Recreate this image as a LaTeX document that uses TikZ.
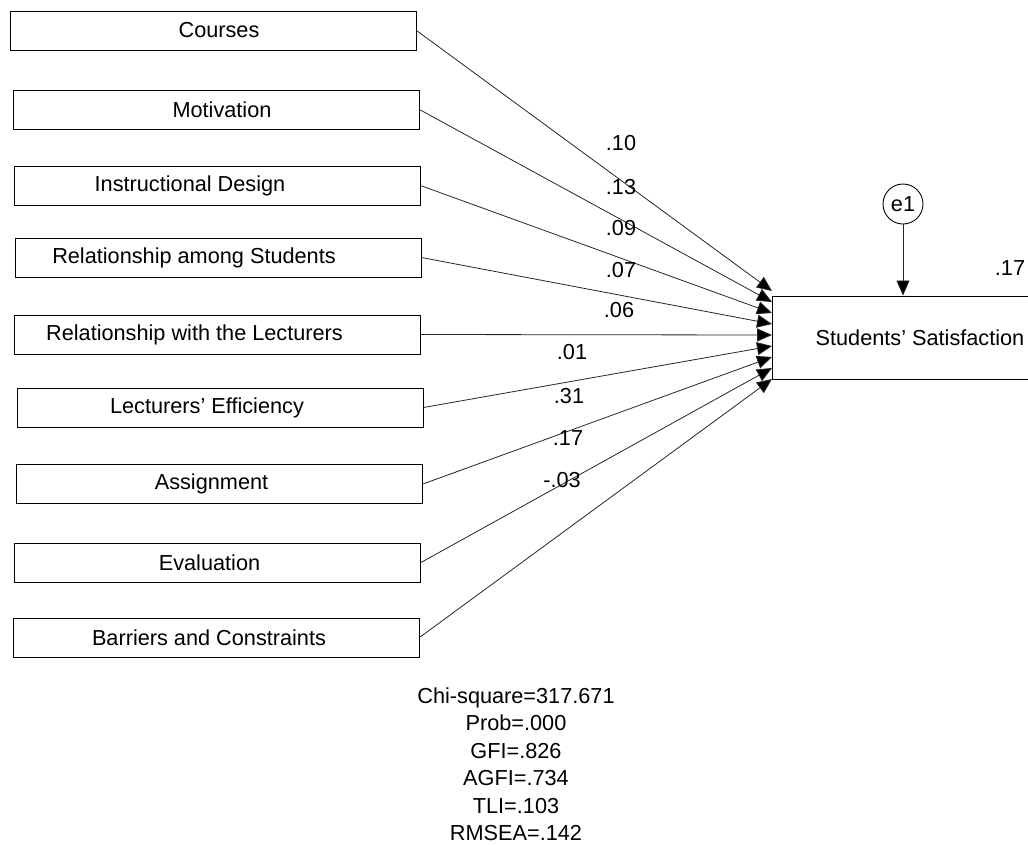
\documentclass[tikz,border=0pt]{standalone}
\usepackage{fontspec}
\setmainfont{Liberation Sans}
\usetikzlibrary{arrows.meta}
\begin{document}
\begin{tikzpicture}[x=1pt,y=-1pt,
  font=\fontsize{21.7}{26}\selectfont,
  box/.style={draw, line width=0.9pt, minimum width=406pt, minimum height=39pt, inner sep=0pt},
  regpath/.style={line width=0.8pt, draw=black!85, -{Triangle[length=15pt,width=13pt,fill=black]}},
  coef/.style={inner sep=0pt}]
\useasboundingbox (0,0) rectangle (1028,844);
\clip (0,0) rectangle (1028,844);
% predictor boxes
\node[box] (b1) at (213,30.5) {\hspace*{12pt}Courses};
\node[box] (b2) at (216,109.5) {\hspace*{12pt}Motivation};
\node[box] (b3) at (217,185.5) {\hspace*{-54pt}Instructional Design};
\node[box] (b4) at (218,257.5) {\hspace*{-48pt}Relationship among Students};
\node[box] (b5) at (217.5,334.5) {\hspace*{-46pt}Relationship with the Lecturers};
\node[box] (b6) at (220,407.5) {\hspace*{-26pt}Lecturers’ Efficiency};
\node[box] (b7) at (219.5,484) {\hspace*{-16pt}Assignment};
\node[box] (b8) at (217.5,562.5) {\hspace*{-16pt}Evaluation};
\node[box] (b9) at (216,637.5) {\hspace*{-14pt}Barriers and Constraints};
% outcome
\node[draw, line width=0.9pt, minimum width=300pt, minimum height=83pt, inner sep=0pt] (ss) at (922,337.5) {\hspace*{-4pt}Students’ Satisfaction};
\node[draw, circle, line width=0.9pt, minimum size=40pt, inner sep=0pt] (e1) at (903,204) {e1};
\draw[regpath] (e1.south) -- (e1.south |- ss.north);
\node[coef] (r2) at (1010,268) {.17};
% arrow targets
\coordinate (t1) at (772,291);
\coordinate (t2) at (772,302);
\coordinate (t3) at (772,313);
\coordinate (t4) at (772,324);
\coordinate (t5) at (772,335);
\coordinate (t6) at (772,346);
\coordinate (t7) at (772,357);
\coordinate (t8) at (772,368);
\coordinate (t9) at (772,379);
\draw[regpath] (b1.east) -- (t1);
\draw[regpath] (b2.east) -- (t2);
\draw[regpath] (b3.east) -- (t3);
\draw[regpath] (b4.east) -- (t4);
\draw[regpath] (b5.east) -- (t5);
\draw[regpath] (b6.east) -- (t6);
\draw[regpath] (b7.east) -- (t7);
\draw[regpath] (b8.east) -- (t8);
\draw[regpath] (b9.east) -- (t9);
% coefficients
\node[coef] (c1) at (621,143) {.10};
\node[coef] (c2) at (621,187) {.13};
\node[coef] (c3) at (621,228) {.09};
\node[coef] (c4) at (621,270) {.07};
\node[coef] (c5) at (619,310) {.06};
\node[coef] (c6) at (572,352) {.01};
\node[coef] (c7) at (569,396) {.31};
\node[coef] (c8) at (568,438) {.17};
\node[coef] (c9) at (562,480) {-.03};
% fit statistics
\node[align=center, font=\fontsize{21.7}{27.5}\selectfont, inner sep=0pt] (fit) at (516,764)
  {Chi-square=317.671\\Prob=.000\\GFI=.826\\AGFI=.734\\TLI=.103\\RMSEA=.142};
\end{tikzpicture}
\end{document}
